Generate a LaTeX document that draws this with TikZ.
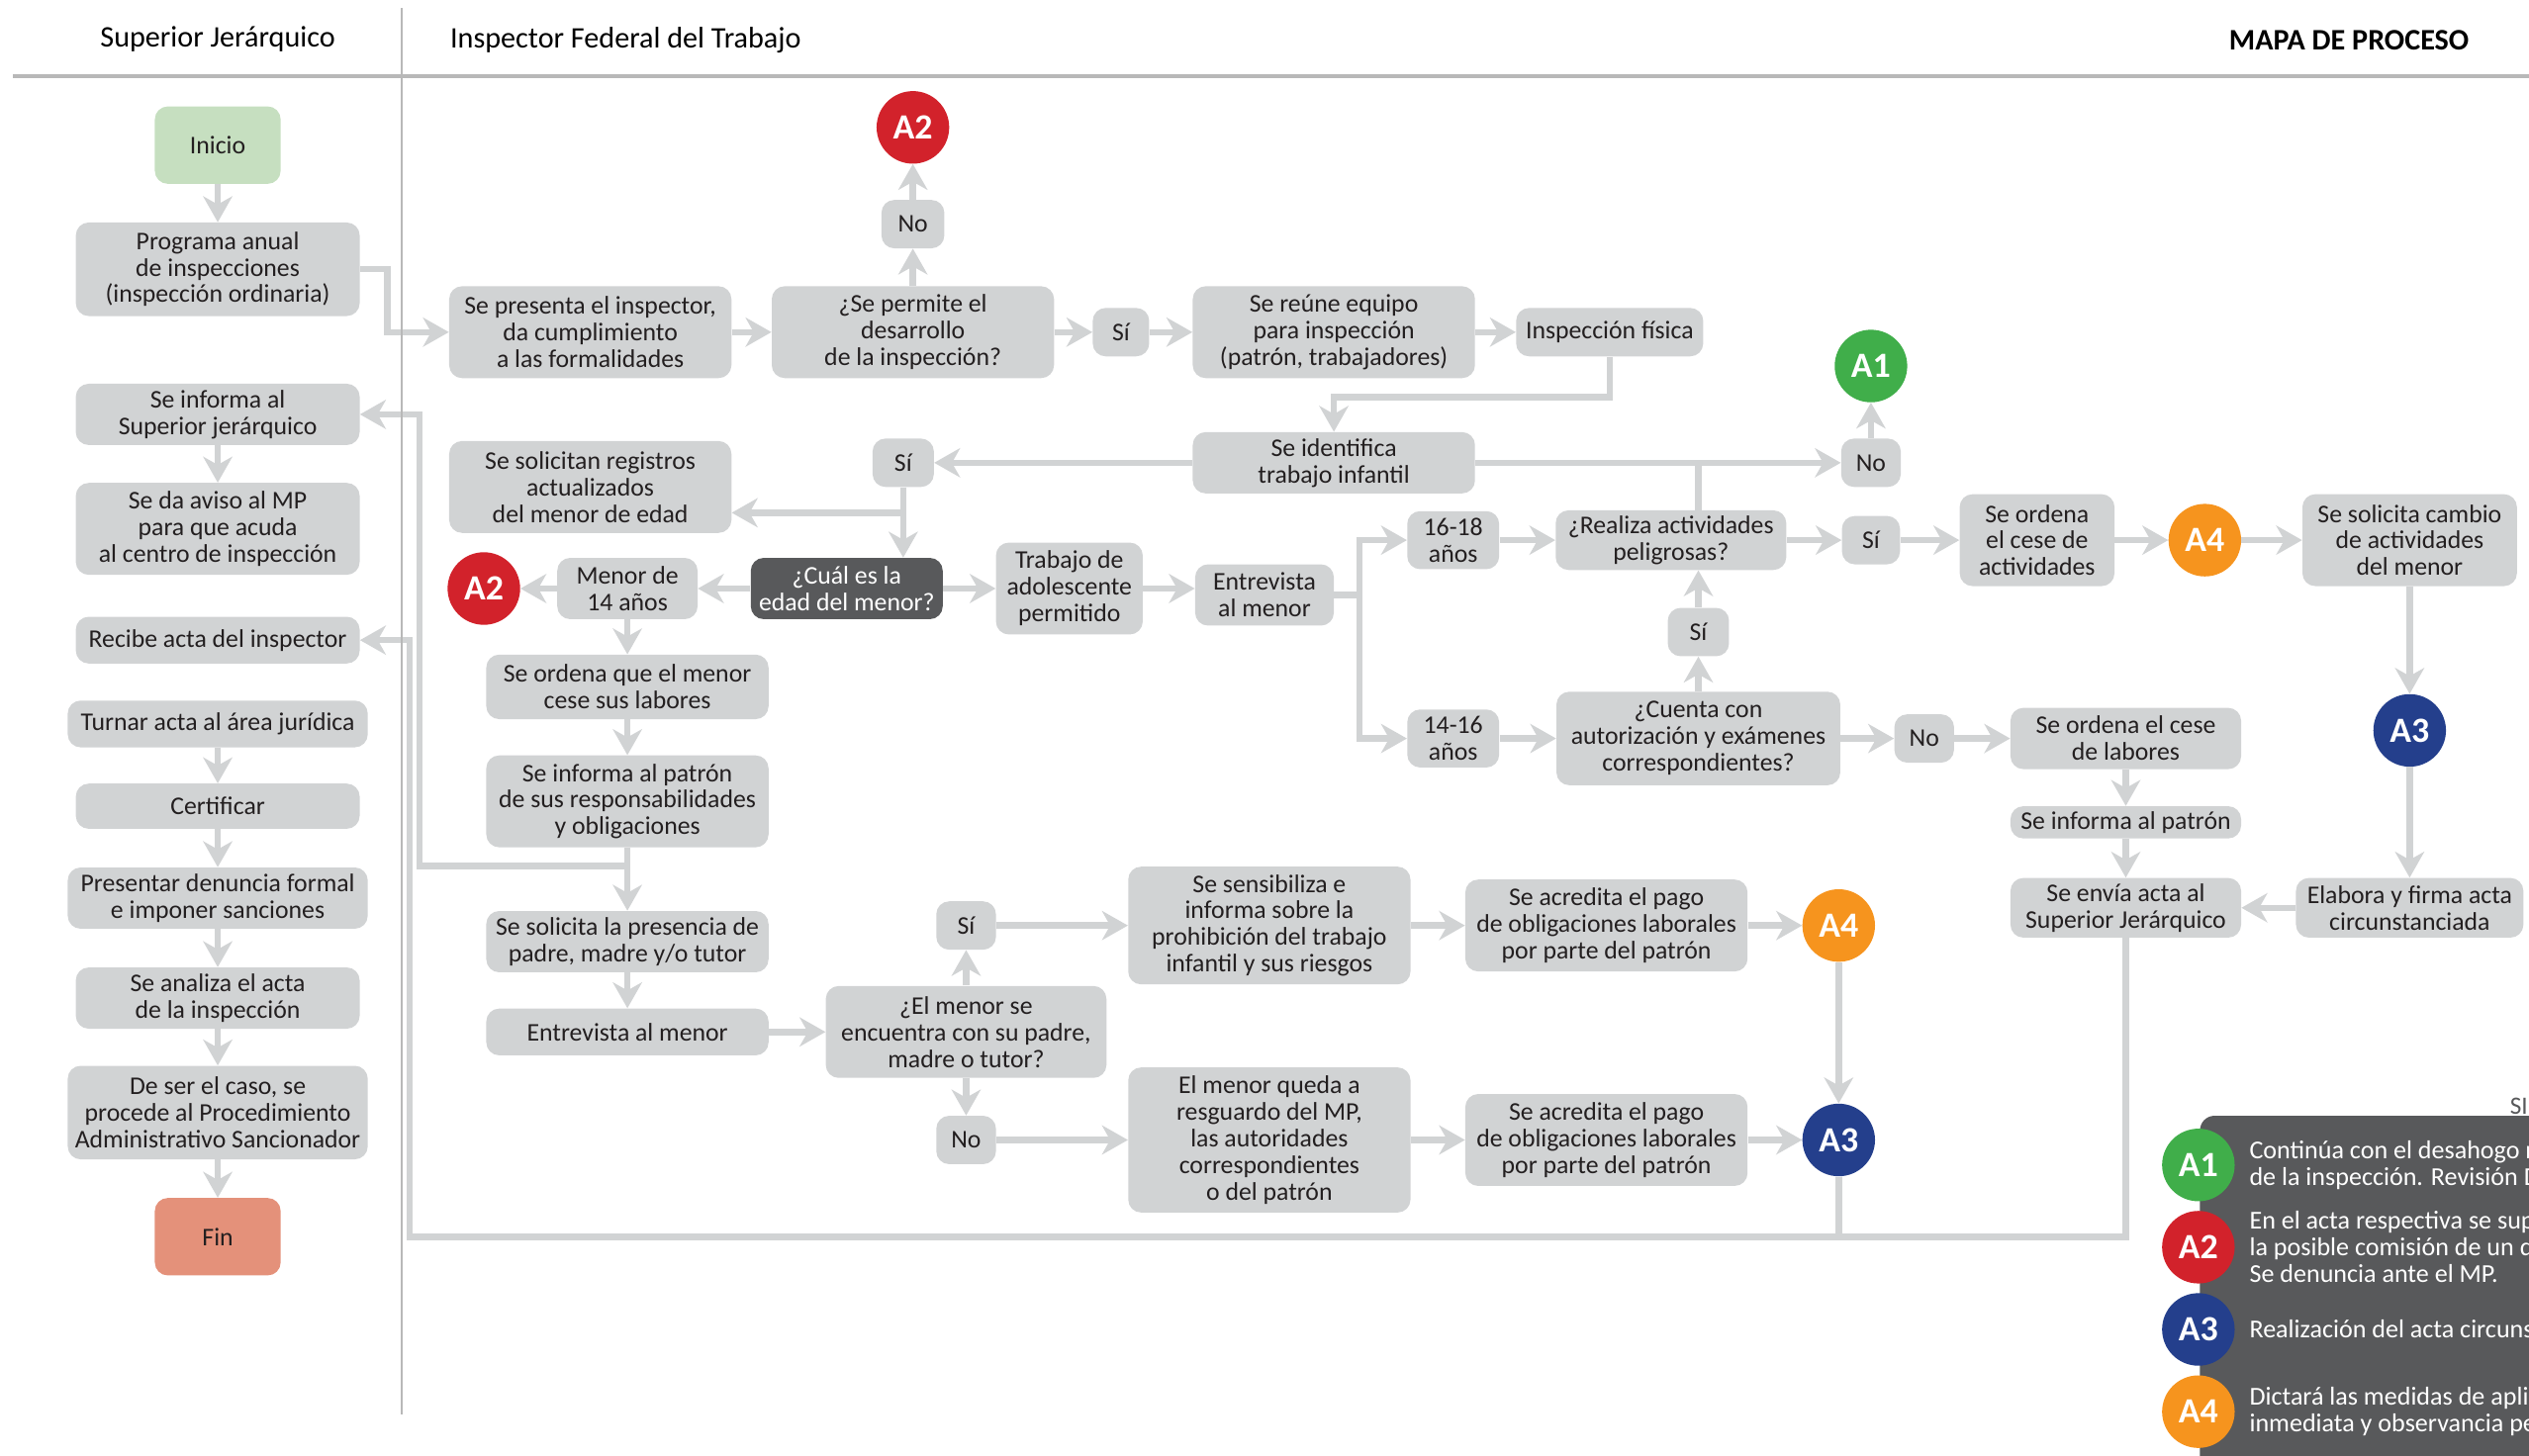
\documentclass[tikz,border=0pt]{standalone}
\usepackage{fontspec}
\setmainfont{Carlito}
\usetikzlibrary{arrows.meta}
\definecolor{cgray}{HTML}{D1D3D4}
\definecolor{cdark}{HTML}{58595B}
\definecolor{cverde}{HTML}{40AE4A}
\definecolor{crojo}{HTML}{D2222B}
\definecolor{cazul}{HTML}{243F8C}
\definecolor{cnaranja}{HTML}{F6941E}
\definecolor{cinicio}{HTML}{C6DFC0}
\definecolor{cfin}{HTML}{E4917A}
\definecolor{crule}{HTML}{B8B8B8}
\definecolor{ctext}{HTML}{231F20}
\newcommand\bxfont{\fontsize{15.8}{16.5}\selectfont}
\tikzset{
  caja/.style={fill=cgray, text=ctext, rounded corners=8pt, align=center, inner sep=1pt, font=\bxfont},
  cajaosc/.style={caja, fill=cdark, text=white},
  flecha/.style={draw=cgray, line width=4pt, -{Stealth[length=16pt,width=18pt,inset=5pt]}},
  linea/.style={draw=cgray, line width=4pt},
  ficha/.style={circle, fill=#1, text=white, minimum size=45pt, inner sep=0pt, font=\fontsize{22}{22}\selectfont\bfseries},
  titulo/.style={inner sep=0pt, text=black, font=\fontsize{18.5}{20}\selectfont},
  leyenda/.style={anchor=west, align=left, inner sep=0pt, text=white, font=\fontsize{16}{16.5}\selectfont}
}
\begin{document}
\begin{tikzpicture}[x=1pt,y=-1pt]
\useasboundingbox (0,0) rectangle (1568,902.4);
\clip (0,0) rectangle (1568,902.4);

\draw[crule, line width=2.5pt] (8,47) -- (1568,47);
\node[titulo] (hsup) at (135,24) {Superior Jerárquico};
\node[titulo, anchor=west] (hinsp) at (279,25) {Inspector Federal del Trabajo};
\node[titulo, anchor=east, font=\fontsize{18.5}{20}\selectfont\bfseries] (hmapa) at (1531,25) {MAPA DE PROCESO};

% Superior Jerarquico
\node[caja, fill=cinicio, minimum width=78pt, minimum height=48pt] (inicio) at (135,90) {Inicio};
\node[caja, minimum width=176pt, minimum height=58pt] (prog) at (135,167) {Programa anual\\de inspecciones\\(inspección ordinaria)};
\node[caja, minimum width=176pt, minimum height=38pt] (infsup) at (135,257) {Se informa al\\Superior jerárquico};
\node[caja, minimum width=176pt, minimum height=57pt] (aviso) at (135,328) {Se da aviso al MP\\para que acuda\\al centro de inspección};
\node[caja, minimum width=176pt, minimum height=29pt] (recibe) at (135,397) {Recibe acta del inspector};
\node[caja, minimum width=186pt, minimum height=29pt] (turnar) at (135,449) {Turnar acta al área jurídica};
\node[caja, minimum width=176pt, minimum height=28pt] (certif) at (135,500) {Certificar};
\node[caja, minimum width=186pt, minimum height=38pt] (denuncia) at (135,557) {Presentar denuncia formal\\e imponer sanciones};
\node[caja, minimum width=176pt, minimum height=38pt] (analiza) at (135,619) {Se analiza el acta\\de la inspección};
\node[caja, minimum width=186pt, minimum height=58pt] (caso) at (135,690) {De ser el caso, se\\procede al Procedimiento\\Administrativo Sancionador};
\node[caja, fill=cfin, minimum width=78pt, minimum height=48pt] (fin) at (135,767) {Fin};

% Inspector Federal del Trabajo
\node[caja, minimum width=175pt, minimum height=57pt] (sepres) at (366,206) {Se presenta el inspector,\\da cumplimiento\\a las formalidades};
\node[caja, minimum width=175pt, minimum height=57pt] (permite) at (566,206) {¿Se permite el\\desarrollo\\de la inspección?};
\node[caja, minimum width=35pt, minimum height=30pt] (si1) at (695,206) {Sí};
\node[caja, minimum width=175pt, minimum height=57pt] (reune) at (827,206) {Se reúne equipo\\para inspección\\(patrón, trabajadores)};
\node[caja, minimum width=116pt, minimum height=30pt] (fisica) at (998,206) {Inspección física};
\node[caja, minimum width=39pt, minimum height=30pt] (no1) at (566,139) {No};
\node[ficha=crojo] (a2a) at (566,79) {A2};
\node[ficha=cverde] (a1) at (1160,227) {A1};
\node[caja, minimum width=175pt, minimum height=38pt] (seid) at (827,287) {Se identifica\\trabajo infantil};
\node[caja, minimum width=37pt, minimum height=30pt] (no2) at (1160,287) {No};
\node[caja, minimum width=38pt, minimum height=30pt] (si2) at (560,287) {Sí};
\node[caja, minimum width=175pt, minimum height=57pt] (regs) at (366,302) {Se solicitan registros\\actualizados\\del menor de edad};
\node[cajaosc, minimum width=119pt, minimum height=38pt] (cual) at (525,365) {¿Cuál es la\\edad del menor?};
\node[caja, minimum width=87pt, minimum height=38pt] (menor) at (389,365) {Menor de\\14 años};
\node[ficha=crojo] (a2b) at (300,365) {A2};
\node[caja, minimum width=91pt, minimum height=57pt] (trab) at (663,365) {Trabajo de\\adolescente\\permitido};
\node[caja, minimum width=86pt, minimum height=38pt] (entr) at (784,369) {Entrevista\\al menor};
\node[caja, minimum width=57pt, minimum height=36pt] (e1618) at (901,335) {16-18\\años};
\node[caja, minimum width=57pt, minimum height=36pt] (e1416) at (901,458) {14-16\\años};
\node[caja, minimum width=143pt, minimum height=37pt] (realiza) at (1036,335) {¿Realiza actividades\\peligrosas?};
\node[caja, minimum width=36pt, minimum height=30pt] (si3) at (1160,335) {Sí};
\node[caja, minimum width=96pt, minimum height=57pt] (cesact) at (1263,335) {Se ordena\\el cese de\\actividades};
\node[ficha=cnaranja] (a4a) at (1367,335) {A4};
\node[caja, minimum width=133pt, minimum height=57pt] (cambio) at (1494,335) {Se solicita cambio\\de actividades\\del menor};
\node[ficha=cazul] (a3a) at (1494,453) {A3};
\node[caja, minimum width=141pt, minimum height=37pt] (elabora) at (1494,563) {Elabora y firma acta\\circunstanciada};
\node[caja, minimum width=143pt, minimum height=37pt] (envia) at (1318,563) {Se envía acta al\\Superior Jerárquico};
\node[caja, minimum width=143pt, minimum height=20pt] (infpat) at (1318,510) {Se informa al patrón};
\node[caja, minimum width=143pt, minimum height=38pt] (ceslab) at (1318,458) {Se ordena el cese\\de labores};
\node[caja, minimum width=37pt, minimum height=30pt] (no3) at (1193,458) {No};
\node[caja, minimum width=176pt, minimum height=58pt] (cuenta) at (1053,458) {¿Cuenta con\\autorización y exámenes\\correspondientes?};
\node[caja, minimum width=38pt, minimum height=30pt] (si4) at (1053,392) {Sí};

\node[caja, minimum width=175pt, minimum height=40pt] (ordmen) at (389,426) {Se ordena que el menor\\cese sus labores};
\node[caja, minimum width=175pt, minimum height=57pt] (respons) at (389,497) {Se informa al patrón\\de sus responsabilidades\\y obligaciones};
\node[caja, minimum width=175pt, minimum height=38pt] (presen) at (389,584) {Se solicita la presencia de\\padre, madre y/o tutor};
\node[caja, minimum width=175pt, minimum height=29pt] (entr2) at (389,640) {Entrevista al menor};
\node[caja, minimum width=174pt, minimum height=57pt] (padre) at (599,640) {¿El menor se\\encuentra con su padre,\\madre o tutor?};
\node[caja, minimum width=37pt, minimum height=30pt] (si5) at (599,574) {Sí};
\node[caja, minimum width=37pt, minimum height=30pt] (no4) at (599,707) {No};
\node[caja, minimum width=175pt, minimum height=73pt] (sensib) at (787,574) {Se sensibiliza e\\informa sobre la\\prohibición del trabajo\\infantil y sus riesgos};
\node[caja, minimum width=175pt, minimum height=90pt] (resguardo) at (787,707) {El menor queda a\\resguardo del MP,\\las autoridades\\correspondientes\\o del patrón};
\node[caja, minimum width=175pt, minimum height=57pt] (acred1) at (996,574) {Se acredita el pago\\de obligaciones laborales\\por parte del patrón};
\node[caja, minimum width=175pt, minimum height=57pt] (acred2) at (996,707) {Se acredita el pago\\de obligaciones laborales\\por parte del patrón};
\node[ficha=cnaranja] (a4b) at (1140,574) {A4};
\node[ficha=cazul] (a3b) at (1140,707) {A3};

% conectores
\draw[flecha] (inicio) -- (prog);
\draw[flecha] (infsup) -- (aviso);
\draw[flecha] (turnar) -- (certif);
\draw[flecha] (certif) -- (denuncia);
\draw[flecha] (denuncia) -- (analiza);
\draw[flecha] (analiza) -- (caso);
\draw[flecha] (caso) -- (fin);
\draw[flecha] (prog.east) -- ++(17,0) |- (sepres.west);
\draw[flecha] (sepres) -- (permite);
\draw[flecha] (permite) -- (si1);
\draw[flecha] (si1) -- (reune);
\draw[flecha] (reune) -- (fisica);
\draw[flecha] (permite) -- (no1);
\draw[flecha] (no1) -- (a2a);
\draw[flecha] (fisica.south) -- ++(0,25) -| (seid.north);
\draw[flecha] (seid) -- (no2);
\draw[flecha] (no2) -- (a1);
\draw[linea] (cuenta.north |- realiza.north) -- (cuenta.north |- seid.east);
\draw[flecha] (seid) -- (si2);
\draw[flecha] (si2.south) -- (si2.south |- cual.north);
\coordinate (j1) at (560,318);
\draw[flecha] (j1) -- (j1 -| regs.east);
\draw[flecha] (cual) -- (menor);
\draw[flecha] (menor) -- (a2b);
\draw[flecha] (cual) -- (trab);
\draw[flecha] (trab.east) -- (trab.east -| entr.west);
\coordinate (j2) at (843,369);
\draw[linea] (entr.east) -- (j2);
\draw[flecha] (j2) |- (e1618.west);
\draw[flecha] (j2) |- (e1416.west);
\draw[flecha] (e1618) -- (realiza);
\draw[flecha] (realiza) -- (si3);
\draw[flecha] (si3) -- (cesact);
\draw[flecha] (cesact) -- (a4a);
\draw[flecha] (a4a) -- (cambio);
\draw[flecha] (cambio) -- (a3a);
\draw[flecha] (a3a) -- (elabora);
\draw[flecha] (elabora) -- (envia);
\draw[flecha] (e1416) -- (cuenta);
\draw[flecha] (cuenta) -- (no3);
\draw[flecha] (no3) -- (ceslab);
\draw[flecha] (ceslab) -- (infpat);
\draw[flecha] (infpat) -- (envia);
\draw[flecha] (cuenta) -- (si4);
\draw[flecha] (si4.north) -- (si4.north |- realiza.south);
\coordinate (b1) at (254,767);
\draw[flecha] (envia.south) |- (b1) |- (recibe.east);
\draw[linea] (a3b.south) -- (a3b.south |- b1);
\draw[flecha] (menor) -- (ordmen);
\draw[flecha] (ordmen) -- (respons);
\draw[flecha] (respons) -- (presen);
\coordinate (b2) at (260,537);
\draw[flecha] (b2 -| respons.south) -- (b2) |- (infsup.east);
\draw[flecha] (presen) -- (entr2);
\draw[flecha] (entr2) -- (padre);
\draw[flecha] (padre) -- (si5);
\draw[flecha] (si5) -- (sensib);
\draw[flecha] (sensib) -- (acred1);
\draw[flecha] (acred1) -- (a4b);
\draw[flecha] (a4b) -- (a3b);
\draw[flecha] (padre) -- (no4);
\draw[flecha] (no4) -- (resguardo);
\draw[flecha] (resguardo) -- (acred2);
\draw[flecha] (acred2) -- (a3b);

\draw[crule, line width=1.6pt] (249,5) -- (249,877);

% simbologia
\fill[cdark, rounded corners=9pt] (1364,692) rectangle (1640,960);
\node[anchor=base west, inner sep=0pt, text=cdark, font=\fontsize{15.5}{16}\selectfont] (simb) at (1556,691) {SIMBOLOGÍA};
\node[ficha=cverde] (la1) at (1363,722.5) {A1};
\node[ficha=crojo] (la2) at (1363,773.5) {A2};
\node[ficha=cazul] (la3) at (1363,824.5) {A3};
\node[ficha=cnaranja] (la4) at (1363,875.5) {A4};
\node[leyenda] (t1) at (1394.5,722.5) {Continúa con el desahogo normal\\de la inspección. Revisión Documental};
\node[leyenda] (t2) at (1394.5,773.5) {En el acta respectiva se supone\\la posible comisión de un delito.\\Se denuncia ante el MP.};
\node[leyenda] (t3) at (1394.5,824.5) {Realización del acta circunstanciada.};
\node[leyenda] (t4) at (1394.5,875.5) {Dictará las medidas de aplicación\\inmediata y observancia permanente};
\end{tikzpicture}
\end{document}
